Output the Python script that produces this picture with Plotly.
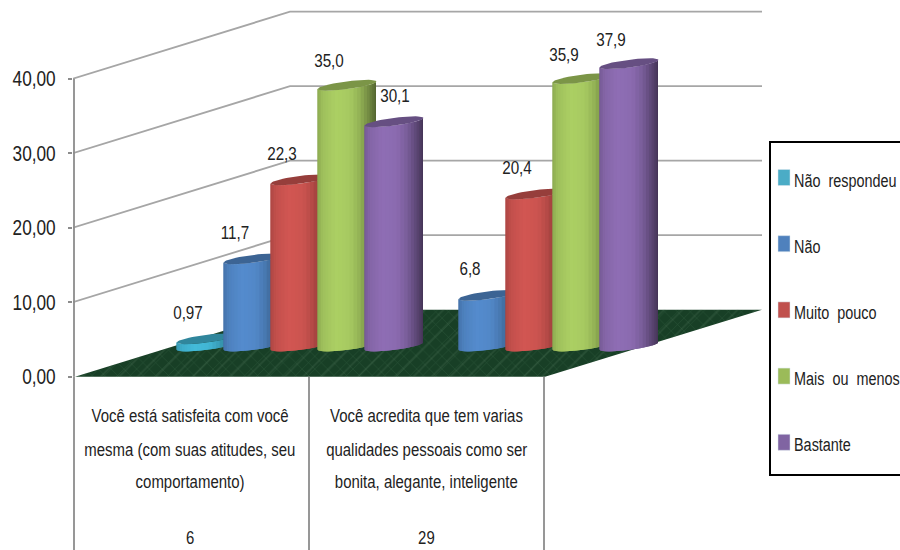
import math
import plotly.graph_objects as go

# ---- data ----
categories = [
    "Você está satisfeita com você<br>mesma (com suas atitudes, seu<br>comportamento)",
    "Você acredita que tem varias<br>qualidades pessoais como ser<br>bonita, alegante, inteligente",
]
category_codes = ["6", "29"]
series_names = ["Não respondeu", "Não", "Muito pouco", "Mais ou menos", "Bastante"]
nao_respondeu = [0.97, None]
nao = [11.7, 6.8]
muito_pouco = [22.3, 20.4]
mais_ou_menos = [35.0, 35.9]
bastante = [30.1, 37.9]
label_nao_respondeu = ["0,97", ""]
label_nao = ["11,7", "6,8"]
label_muito_pouco = ["22,3", "20,4"]
label_mais_ou_menos = ["35,0", "35,9"]
label_bastante = ["30,1", "37,9"]
y_ticks = [0, 10, 20, 30, 40]
y_tick_labels = ["0,00", "10,00", "20,00", "30,00", "40,00"]

series_values = [nao_respondeu, nao, muito_pouco, mais_ou_menos, bastante]
series_labels = [label_nao_respondeu, label_nao, label_muito_pouco, label_mais_ou_menos, label_bastante]
colors = [(66, 182, 212), (82, 136, 200), (204, 84, 80), (167, 202, 97), (139, 107, 176)]
legend_colors = ["#4bacc6", "#4f81bd", "#c0504d", "#9bbb59", "#8064a2"]

# ---- layout geometry ----
FONT = "Liberation Sans, Arial"
TEXT = "#222222"
PX = 7.45                  # pixels per value unit
Y0 = 376.7                 # pixel row of value 0
X_L = 73
WALL_DX, WALL_DY = 217, 67
GRID_END = 762
CAT_W = 235
BAR_X0, BAR_STEP, BAR_W = 177, 47, 58
BASE = (Y0 - 349) / PX     # floor position of the cylinders


def yv(p):
    return (Y0 - p) / PX


fig = go.Figure()


def poly(xs, ys, color):
    fig.add_trace(go.Scatter(x=xs, y=ys, mode="lines", fill="toself", fillcolor=color,
                             line=dict(width=0), hoverinfo="skip", showlegend=False))


def rgb(c, f):
    return "rgb(%d,%d,%d)" % tuple(min(255, int(v * f)) for v in c)


def shade(u):
    stops = [(0, .86), (.08, .95), (.3, 1.03), (.55, 1.0), (.72, .88), (.88, .68), (1, .5)]
    for (a, fa), (b, fb) in zip(stops, stops[1:]):
        if u <= b:
            return fa + (fb - fa) * (u - a) / (b - a)
    return stops[-1][1]


GRID = "#a6a6a6"
AXIS = "#8c8c8c"

# gridlines on side and back wall
for v in y_ticks[1:]:
    fig.add_trace(go.Scatter(x=[X_L, X_L + WALL_DX, GRID_END],
                             y=[v, v + WALL_DY / PX, v + WALL_DY / PX], mode="lines",
                             line=dict(color=GRID, width=1.8), hoverinfo="skip", showlegend=False))

# floor
floor_x = [X_L + 2, 545, GRID_END, X_L + WALL_DX + 2, X_L + 2]
floor_y = [0, 0, WALL_DY / PX, WALL_DY / PX, 0]
fig.add_trace(go.Scatter(
    x=floor_x, y=floor_y, mode="lines", fill="toself", fillcolor="#1b4429", line=dict(width=0),
    fillpattern=dict(shape="x", fgcolor="#3b6a4a", bgcolor="#183f26", size=9, solidity=0.12),
    hoverinfo="skip", showlegend=False))
fig.add_trace(go.Scatter(
    x=floor_x, y=floor_y, mode="lines", fill="toself", fillcolor="rgba(0,0,0,0)", line=dict(width=0),
    fillpattern=dict(shape="/", fgcolor="rgba(90,130,100,0.45)", bgcolor="rgba(0,0,0,0)", size=13, solidity=0.12),
    hoverinfo="skip", showlegend=False))

# axis lines below the floor
for x in [X_L + 1, X_L + 1 + CAT_W, X_L + 1 + 2 * CAT_W]:
    fig.add_trace(go.Scatter(x=[x, x], y=[0, yv(552)], mode="lines",
                             line=dict(color=AXIS, width=1.8), hoverinfo="skip", showlegend=False))
fig.add_trace(go.Scatter(x=[X_L + 1, X_L + 1], y=[0, 40], mode="lines",
                         line=dict(color=AXIS, width=1.8), hoverinfo="skip", showlegend=False))

# cylinders
AX, AY = BAR_W / 2, 3 / PX
BX, BY = 5, 4.5 / PX
N = 24
for cat in range(2):
    for s, vals in enumerate(series_values):
        v = vals[cat]
        if v is None:
            continue
        cx = BAR_X0 + CAT_W * cat + BAR_STEP * s + BAR_W / 2

        def pt(t, level):
            return cx + AX * math.cos(t) + BX * math.sin(t), level + AY + AY * math.cos(t) + BY * math.sin(t)
        for k in range(N):
            t0 = math.pi + math.pi * k / N
            t1 = math.pi + math.pi * (k + 1) / N
            t2 = min(2 * math.pi, t1 + math.pi / N)      # overlap hides the seams
            ts = [t0, t1, t2]
            lower = [pt(t, BASE) for t in ts]
            upper = [pt(t, BASE + v) for t in reversed(ts)]
            outline = lower + upper + lower[:1]
            um = (pt((t0 + t1) / 2, 0)[0] - (cx - AX)) / BAR_W
            poly([p[0] for p in outline], [p[1] for p in outline], rgb(colors[s], shade(um)))
        ring = [pt(2 * math.pi * k / 48, BASE + v) for k in range(49)]
        poly([p[0] for p in ring], [p[1] for p in ring], rgb(colors[s], 0.74))
        off = 30 if v == 30.1 else 11
        gap = 3.45 if v >= 35 else 3.75
        fig.add_trace(go.Scatter(
            x=[BAR_X0 + CAT_W * cat + BAR_STEP * s + off], y=[BASE + v + gap],
            mode="text", text=[series_labels[s][cat]],
            textfont=dict(family=FONT, size=19, color=TEXT), textposition="middle center",
            hoverinfo="skip", showlegend=False))

annotations = []
for i, (c, code) in enumerate(zip(categories, category_codes)):
    xc = 190 + (CAT_W + 1) * i
    for line, p in zip(c.split("<br>"), [415, 449, 481]):
        annotations.append(dict(x=xc, y=yv(p), text=line, showarrow=False,
                                font=dict(family=FONT, size=18.7, color=TEXT)))
    annotations.append(dict(x=xc, y=yv(537), text=code, showarrow=False,
                            font=dict(family=FONT, size=18.7, color=TEXT)))

# legend box
shapes = [dict(type="rect", x0=770, x1=920, y0=yv(142), y1=yv(475), line=dict(color="black", width=2),
               fillcolor="white", layer="below")]
for i, (name, col) in enumerate(zip(series_names, legend_colors)):
    p = 178.5 + 66.2 * i
    shapes.append(dict(type="rect", x0=778, x1=790, y0=yv(p - 9), y1=yv(p + 7),
                       fillcolor=col, line=dict(color="#d8e4ec", width=0.5), layer="above"))
    fig.add_trace(go.Scatter(x=[794], y=[yv(p + 3.5)], mode="text", text=[name.replace(" ", "\u00a0\u00a0")],
                             textposition="middle right", hoverinfo="skip", showlegend=False,
                             textfont=dict(family=FONT, size=18, color=TEXT)))

fig.update_layout(
    width=900, height=550, margin=dict(l=X_L, r=0, t=0, b=0, pad=0),
    paper_bgcolor="white", plot_bgcolor="white", showlegend=False,
    shapes=shapes, annotations=annotations,
    xaxis=dict(range=[X_L, 900], visible=False, fixedrange=True),
    yaxis=dict(range=[yv(550), yv(0)], tickmode="array", tickvals=y_ticks, ticktext=y_tick_labels,
               showgrid=False, zeroline=False, showline=False, ticks="outside", ticklen=4,
               tickcolor=AXIS, tickwidth=2, fixedrange=True, ticklabelstandoff=8,
               tickfont=dict(family=FONT, size=21.5, color=TEXT)),
)

# the reference uses a narrow face: squeeze glyphs horizontally, and drop the page margin
post = """
document.body.style.margin = '0';
document.querySelectorAll('svg text').forEach(function (t) {
  if (!t.textContent.trim()) return;
  var w = t.getComputedTextLength();
  t.setAttribute('lengthAdjust', 'spacingAndGlyphs');
  t.setAttribute('textLength', (w * 0.8).toFixed(1));
});
"""
fig.write_html("out.html", post_script=post, config=dict(displayModeBar=False))
